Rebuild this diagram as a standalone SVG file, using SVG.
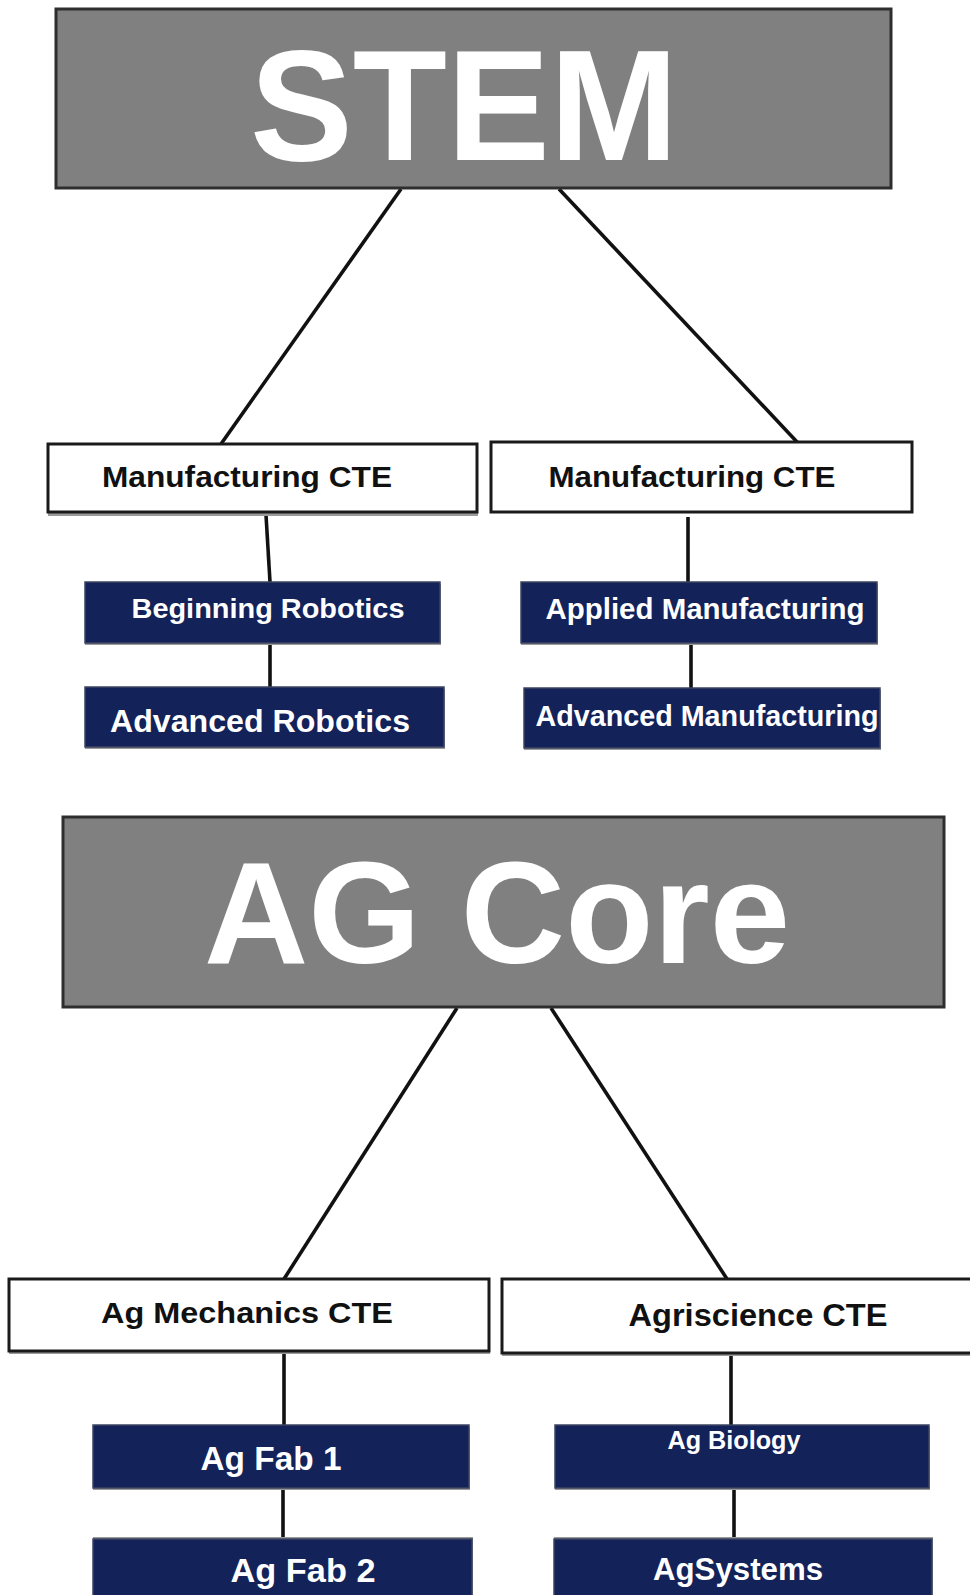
<svg xmlns="http://www.w3.org/2000/svg" width="970" height="1595" viewBox="0 0 970 1595">
<style>
.bg{fill:#ffffff}
.hdr{fill:#808080;stroke:#2e2e2e;stroke-width:3}
.cte{fill:#ffffff;stroke:#1a1a1a;stroke-width:3}
.crs{fill:#14225a;stroke:#3c4460;stroke-width:1.5}
.shd{fill:#9a9a9a}
.big{font-family:"Liberation Sans",Arial,sans-serif;font-weight:bold;fill:#ffffff;text-anchor:middle}
.lbl{font-family:"Liberation Sans",Arial,sans-serif;font-weight:bold;fill:#111111;text-anchor:middle}
.wl{font-family:"Liberation Sans",Arial,sans-serif;font-weight:bold;fill:#ffffff;text-anchor:middle}
.con{stroke:#111111;stroke-width:3.6;fill:none;stroke-linecap:butt}
</style>
<rect class="bg" x="0" y="0" width="970" height="1595"/>

<g id="connectors">
<line class="con" x1="401" y1="189" x2="221" y2="444"/>
<line class="con" x1="559" y1="189" x2="798" y2="443"/>
<line class="con" x1="266" y1="515" x2="270" y2="582"/>
<line class="con" x1="688" y1="517" x2="688" y2="583"/>
<line class="con" x1="270" y1="643" x2="270" y2="687"/>
<line class="con" x1="691" y1="645" x2="691" y2="689"/>
<line class="con" x1="457" y1="1008" x2="284" y2="1279"/>
<line class="con" x1="551" y1="1008" x2="727" y2="1279"/>
<line class="con" x1="284" y1="1354" x2="284" y2="1425"/>
<line class="con" x1="731" y1="1356" x2="731" y2="1425"/>
<line class="con" x1="283" y1="1488" x2="283" y2="1537"/>
<line class="con" x1="734" y1="1488" x2="734" y2="1539"/>
</g>

<g id="stem">
<rect class="hdr" x="56" y="9" width="835" height="179"/>
<text class="big" x="464" y="160" font-size="158" textLength="428" lengthAdjust="spacingAndGlyphs">STEM</text>
</g>

<g id="mfg-cte-left">
<rect class="shd" x="48" y="446" width="430" height="70"/>
<rect class="cte" x="48" y="444" width="429" height="68"/>
<text class="lbl" x="247" y="487" font-size="29" textLength="290" lengthAdjust="spacingAndGlyphs">Manufacturing CTE</text>
</g>

<g id="mfg-cte-right">
<rect class="cte" x="491" y="442" width="421" height="70"/>
<text class="lbl" x="692" y="487" font-size="29" textLength="287" lengthAdjust="spacingAndGlyphs">Manufacturing CTE</text>
</g>

<g id="beginning-robotics">
<rect class="shd" x="85" y="584" width="356" height="61"/>
<rect class="crs" x="85" y="582" width="355" height="61"/>
<text class="wl" x="268" y="618" font-size="28" textLength="273" lengthAdjust="spacingAndGlyphs">Beginning Robotics</text>
</g>

<g id="advanced-robotics">
<rect class="shd" x="85" y="689" width="360" height="60"/>
<rect class="crs" x="85" y="687" width="359" height="60"/>
<text class="wl" x="260" y="732" font-size="32" textLength="300" lengthAdjust="spacingAndGlyphs">Advanced Robotics</text>
</g>

<g id="applied-manufacturing">
<rect class="shd" x="521" y="584" width="357" height="61"/>
<rect class="crs" x="521" y="582" width="356" height="61"/>
<text class="wl" x="705" y="619" font-size="29" textLength="319" lengthAdjust="spacingAndGlyphs">Applied Manufacturing</text>
</g>

<g id="advanced-manufacturing">
<rect class="shd" x="524" y="690" width="357" height="60"/>
<rect class="crs" x="524" y="688" width="356" height="60"/>
<text class="wl" x="707" y="726" font-size="29" textLength="343" lengthAdjust="spacingAndGlyphs">Advanced Manufacturing</text>
</g>

<g id="ag-core">
<rect class="hdr" x="63" y="817" width="881" height="190"/>
<text class="big" x="497" y="963" font-size="145" textLength="586" lengthAdjust="spacingAndGlyphs">AG Core</text>
</g>

<g id="ag-mechanics-cte">
<rect class="shd" x="9" y="1281" width="481" height="73"/>
<rect class="cte" x="9" y="1279" width="480" height="72"/>
<text class="lbl" x="247" y="1323" font-size="30" textLength="292" lengthAdjust="spacingAndGlyphs">Ag Mechanics CTE</text>
</g>

<g id="agriscience-cte">
<rect class="shd" x="502" y="1281" width="470" height="75"/>
<rect class="cte" x="502" y="1279" width="470" height="74"/>
<text class="lbl" x="758" y="1326" font-size="31" textLength="259" lengthAdjust="spacingAndGlyphs">Agriscience CTE</text>
</g>

<g id="ag-fab-1">
<rect class="shd" x="93" y="1427" width="377" height="63"/>
<rect class="crs" x="93" y="1425" width="376" height="63"/>
<text class="wl" x="271" y="1470" font-size="33" textLength="141" lengthAdjust="spacingAndGlyphs">Ag Fab 1</text>
</g>

<g id="ag-fab-2">
<rect class="shd" x="93" y="1537" width="380" height="60"/>
<rect class="crs" x="93" y="1539" width="379" height="60"/>
<text class="wl" x="303" y="1582" font-size="33" textLength="145" lengthAdjust="spacingAndGlyphs">Ag Fab 2</text>
</g>

<g id="ag-biology">
<rect class="shd" x="555" y="1427" width="375" height="63"/>
<rect class="crs" x="555" y="1425" width="374" height="63"/>
<text class="wl" x="734" y="1449" font-size="25" textLength="133" lengthAdjust="spacingAndGlyphs">Ag Biology</text>
</g>

<g id="agsystems">
<rect class="shd" x="554" y="1537" width="379" height="60"/>
<rect class="crs" x="554" y="1539" width="378" height="60"/>
<text class="wl" x="738" y="1580" font-size="31" textLength="170" lengthAdjust="spacingAndGlyphs">AgSystems</text>
</g>
</svg>
